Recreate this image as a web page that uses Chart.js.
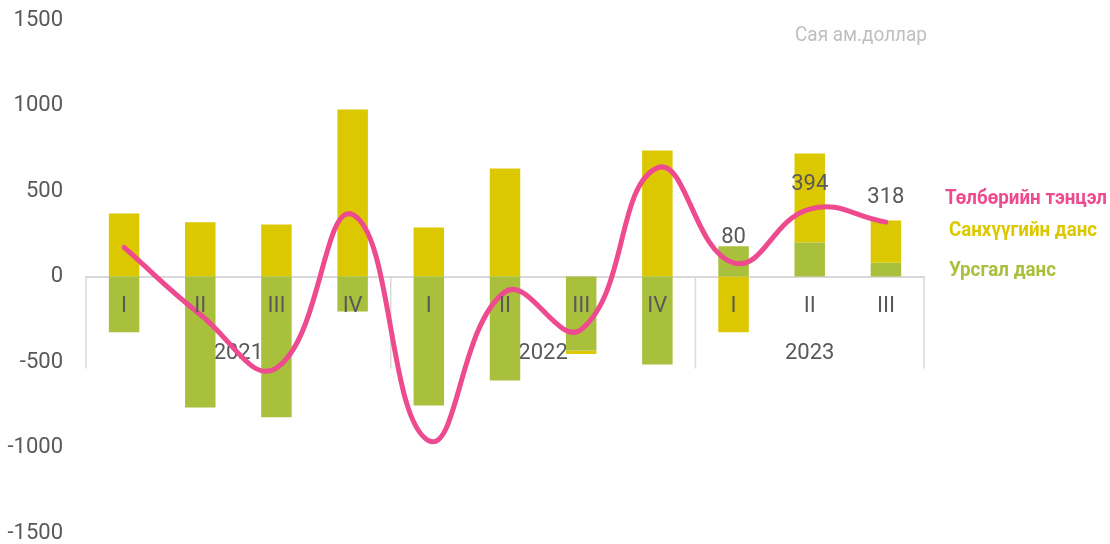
<!DOCTYPE html>
<html>
<head>
<meta charset="utf-8">
<script src="https://cdn.jsdelivr.net/npm/chart.js@4/dist/chart.umd.min.js"></script>
<style>
body{margin:0;background:#fff;}
#wrap{width:1110px;height:544px;position:relative;}
</style>
</head>
<body>
<div id="wrap"><canvas id="bop"></canvas></div>
<script>
// quarters and the year each group of quarters belongs to
const quarters = ['I','II','III','IV','I','II','III','IV','I','II','III'];
const years = ['2021','2022','2023'];
const yearSpans = [4, 4, 3];

// Сая ам.доллар
const currentAcc   = [-326, -766, -823, -205, -755, -608, -433, -515, 177, 199, 80];
const financialAcc = [368, 317, 304, 977, 287, 632, -20, 737, -326, 520, 247];
const balance      = [170, -222, -535, 362, -960, -90, -310, 635, 80, 394, 318];
const labeledPoints = [8, 9, 10];

const unitText = 'Сая ам.доллар';

const gray = '#595959';
const green = '#a8c03c';
const yellow = '#dcc800';
const pink = '#ee4a90';
const font = 'Roboto';

// year labels + group separators under the axis
const yearAxis = {
    id: 'yearAxis',
    beforeDatasetsDraw(chart){
        const ctx = chart.ctx;
        const x = chart.scales.x;
        const y0 = chart.scales.y.getPixelForValue(0);
        const half = (x.getPixelForValue(1) - x.getPixelForValue(0)) / 2;
        ctx.save();
        ctx.strokeStyle = '#d9d9d9';
        ctx.lineWidth = 1.5;
        let start = 0;
        let edges = [x.getPixelForValue(0) - half];
        yearSpans.forEach((n, i) => {
            let a = x.getPixelForValue(start);
            let b = x.getPixelForValue(start + n - 1);
            edges.push(b + half);
            ctx.fillStyle = gray;
            ctx.font = '22px ' + font;
            ctx.textAlign = 'center';
            ctx.textBaseline = 'middle';
            ctx.fillText(years[i], (a + b) / 2, y0 + 77);
            start += n;
        });
        edges.forEach(e => {
            ctx.beginPath();
            ctx.moveTo(e, y0);
            ctx.lineTo(e, y0 + 92);
            ctx.stroke();
        });
        ctx.restore();
    }
};

// value labels on the last points, legend at the right, unit text
const extras = {
    id: 'extras',
    afterDraw(chart){
        const ctx = chart.ctx;
        const meta = chart.getDatasetMeta(2);
        ctx.save();
        ctx.fillStyle = gray;
        ctx.font = '22px ' + font;
        ctx.textAlign = 'center';
        ctx.textBaseline = 'bottom';
        labeledPoints.forEach(i => {
            let p = meta.data[i];
            ctx.fillText(String(balance[i]), p.x, p.y - 14);
        });

        ctx.textAlign = 'left';
        ctx.textBaseline = 'middle';
        ctx.font = 'bold 21px ' + font;
        const items = [[2, 945, 199, 162], [1, 949, 231, 148], [0, 949, 271, 107]];
        items.forEach(it => {
            let ds = chart.data.datasets[it[0]];
            ctx.fillStyle = ds.legendColor;
            ctx.fillText(ds.label, it[1], it[2], it[3]);
        });

        ctx.font = '20px ' + font;
        ctx.fillStyle = '#bfbfbf';
        ctx.fillText(unitText, 795, 36, 132);
        ctx.restore();
    }
};

new Chart(document.getElementById('bop'), {
    type: 'bar',
    data: {
        labels: quarters,
        datasets: [{
            label: 'Урсгал данс',
            data: currentAcc,
            backgroundColor: green,
            legendColor: green,
            stack: 'acc',
            order: 1
        },{
            label: 'Санхүүгийн данс',
            data: financialAcc,
            backgroundColor: yellow,
            legendColor: yellow,
            stack: 'acc',
            order: 1
        },{
            label: 'Төлбөрийн тэнцэл',
            type: 'line',
            data: balance,
            borderColor: pink,
            legendColor: pink,
            borderWidth: 5,
            tension: 0.45,
            pointRadius: 0,
            borderCapStyle: 'round',
            borderJoinStyle: 'round',
            stack: 'line',
            order: 0
        }]
    },
    options: {
        responsive: true,
        maintainAspectRatio: false,
        animation: false,
        barPercentage: 0.4,
        categoryPercentage: 1,
        layout: { padding: { left: 0, right: 186, top: 20, bottom: 11 } },
        plugins: {
            legend: { display: false },
            tooltip: { enabled: false }
        },
        scales: {
            x: {
                position: { y: 0 },
                afterFit(s){ s.height = 0; },
                grid: { display: false, drawTicks: false },
                border: { color: '#d9d9d9', width: 2 },
                ticks: {
                    z: 1,
                    color: gray,
                    font: { family: font, size: 22 },
                    padding: 17,
                    maxRotation: 0,
                    autoSkip: false
                }
            },
            y: {
                stacked: true,
                min: -1500,
                max: 1500,
                afterFit(s){
                    s.width = 86;
                    s.paddingTop = 0;
                    s.paddingBottom = 0;
                },
                grid: { display: false, drawTicks: true, tickLength: 23 },
                border: { display: false },
                ticks: {
                    stepSize: 500,
                    color: gray,
                    font: { family: font, size: 22 },
                    padding: 0,
                    callback: v => String(v)
                }
            }
        }
    },
    plugins: [yearAxis, extras]
});
</script>
</body>
</html>
